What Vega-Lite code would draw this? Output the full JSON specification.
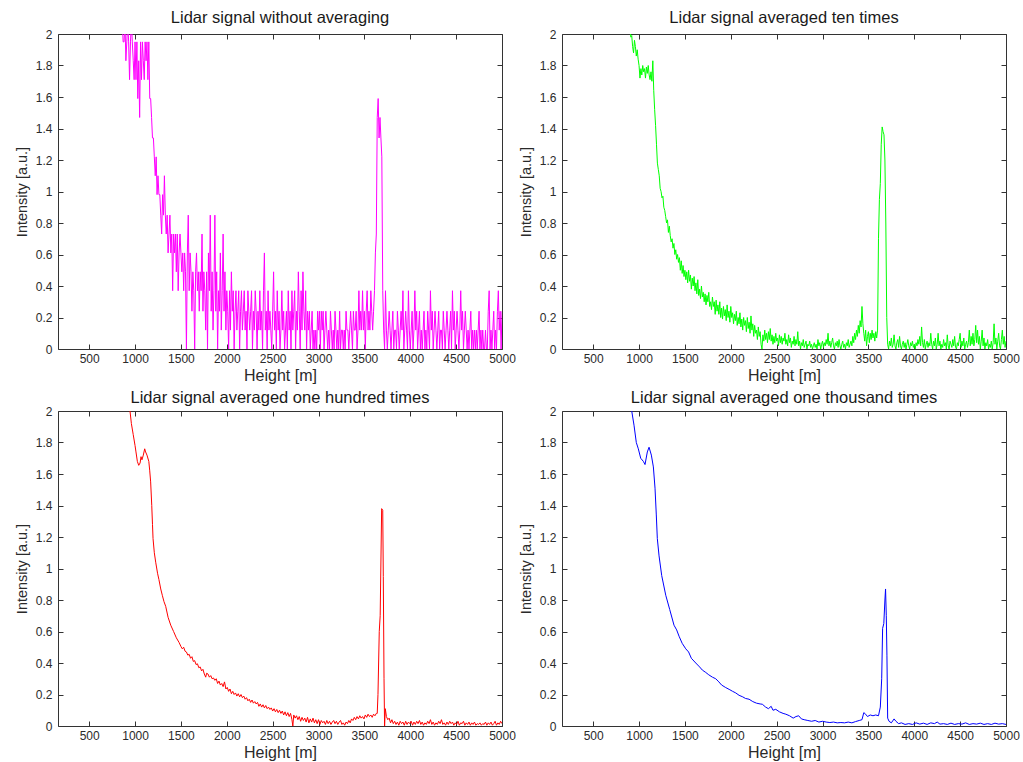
{
  "$schema": "https://vega.github.io/schema/vega-lite/v6.json",
  "background": "white",
  "padding": {"left": 13, "top": 9, "right": 5, "bottom": 5},
  "bounds": "flush",
  "columns": 2,
  "spacing": {"column": 60, "row": 62},
  "config": {
    "view": {"stroke": "#333333", "strokeWidth": 1},
    "font": "Liberation Sans",
    "title": {"font": "Liberation Sans", "fontSize": 16.5, "fontWeight": "normal", "color": "#1a1a1a", "anchor": "middle", "frame": "group"},
    "axis": {"domain": false, "grid": false, "ticks": true, "tickColor": "#333333", "tickWidth": 1, "tickSize": 5, "offset": -5, "labelFlush": false, "labelFont": "Liberation Sans", "labelFontSize": 12, "labelColor": "#2a2a2a", "titleFont": "Liberation Sans", "titleFontWeight": "normal", "titleColor": "#2a2a2a"},
    "axisX": {"labelPadding": 4, "titleFontSize": 16, "titlePadding": 3, "format": "d"},
    "axisY": {"labelPadding": 6, "titleFontSize": 14.5, "titlePadding": 6, "format": "~g"}
  },
  "datasets": {
    "raw": [
      {"h":860,"v":2.08},{"h":870,"v":1.95},{"h":880,"v":1.95},{"h":890,"v":2.08},{"h":900,"v":1.83},{"h":910,"v":1.95},{"h":920,"v":2.08},{"h":930,"v":1.95},{"h":940,"v":1.71},{"h":950,"v":1.95},{"h":960,"v":2.08},{"h":970,"v":1.95},{"h":980,"v":1.83},{"h":990,"v":1.71},{"h":1000,"v":1.95},{"h":1010,"v":1.71},{"h":1020,"v":1.95},{"h":1030,"v":1.59},{"h":1040,"v":1.83},{"h":1050,"v":1.47},{"h":1060,"v":1.95},{"h":1070,"v":1.71},{"h":1080,"v":1.95},{"h":1090,"v":1.83},{"h":1100,"v":1.71},{"h":1110,"v":1.95},{"h":1120,"v":1.83},{"h":1130,"v":1.95},{"h":1140,"v":1.71},{"h":1150,"v":1.95},
      {"h":1160,"v":1.59},{"h":1170,"v":1.59},{"h":1180,"v":1.47},{"h":1190,"v":1.34},{"h":1200,"v":1.34},{"h":1210,"v":1.22},{"h":1220,"v":1.1},{"h":1230,"v":1.22},{"h":1240,"v":0.98},{"h":1250,"v":1.1},{"h":1260,"v":0.98},{"h":1270,"v":0.98},{"h":1280,"v":0.85},{"h":1290,"v":0.73},{"h":1300,"v":0.98},{"h":1310,"v":0.85},{"h":1320,"v":1.1},{"h":1330,"v":0.85},{"h":1340,"v":0.73},{"h":1350,"v":0.85},{"h":1360,"v":0.61},{"h":1370,"v":0.73},{"h":1380,"v":0.85},{"h":1390,"v":0.61},{"h":1400,"v":0.73},{"h":1410,"v":0.37},{"h":1420,"v":0.73},{"h":1430,"v":0.61},{"h":1440,"v":0.73},{"h":1450,"v":0.49},{"h":1460,"v":0.73},{"h":1470,"v":0.37},{"h":1480,"v":0.61},{"h":1490,"v":0.73},{"h":1500,"v":0.61},{"h":1510,"v":0.49},{"h":1520,"v":0.61},{"h":1530,"v":0.37},{"h":1540,"v":0.61},{"h":1550,"v":0.49},{"h":1560,"v":0.0},{"h":1570,"v":0.61},{"h":1580,"v":0.85},{"h":1590,"v":0.37},{"h":1600,"v":0.61},{"h":1610,"v":0.49},{"h":1620,"v":0.24},{"h":1630,"v":0.49},{"h":1640,"v":0.37},{"h":1650,"v":0.0},{"h":1660,"v":0.49},{"h":1670,"v":0.61},{"h":1680,"v":0.37},{"h":1690,"v":0.49},{"h":1700,"v":0.24},{"h":1710,"v":0.49},{"h":1720,"v":0.37},{"h":1730,"v":0.73},{"h":1740,"v":0.24},{"h":1750,"v":0.49},{"h":1760,"v":0.37},{"h":1770,"v":0.12},{"h":1780,"v":0.49},{"h":1790,"v":0.0},{"h":1800,"v":0.61},{"h":1810,"v":0.37},{"h":1820,"v":0.85},{"h":1830,"v":0.24},{"h":1840,"v":0.49},{"h":1850,"v":0.12},{"h":1860,"v":0.37},{"h":1870,"v":0.85},{"h":1880,"v":0.24},{"h":1890,"v":0.49},{"h":1900,"v":0.0},{"h":1910,"v":0.37},{"h":1920,"v":0.24},{"h":1930,"v":0.61},{"h":1940,"v":0.12},{"h":1950,"v":0.37},{"h":1960,"v":0.73},{"h":1970,"v":0.24},{"h":1980,"v":0.49},{"h":1990,"v":0.12},{"h":2000,"v":0.37},{"h":2010,"v":0.24},{"h":2020,"v":0.0},{"h":2030,"v":0.37},{"h":2040,"v":0.12},{"h":2050,"v":0.49},{"h":2060,"v":0.24},{"h":2070,"v":0.37},{"h":2080,"v":0.0},{"h":2090,"v":0.24},{"h":2100,"v":0.37},{"h":2110,"v":0.12},{"h":2120,"v":0.24},{"h":2130,"v":0.37},{"h":2140,"v":0.0},{"h":2150,"v":0.24},{"h":2160,"v":0.37},{"h":2170,"v":0.12},{"h":2180,"v":0.24},{"h":2190,"v":0.37},{"h":2200,"v":0.12},{"h":2210,"v":0.24},{"h":2220,"v":0.0},{"h":2230,"v":0.37},{"h":2240,"v":0.24},{"h":2250,"v":0.12},{"h":2260,"v":0.24},{"h":2270,"v":0.37},{"h":2280,"v":0.0},{"h":2290,"v":0.24},{"h":2300,"v":0.12},{"h":2310,"v":0.37},{"h":2320,"v":0.24},{"h":2330,"v":0.0},{"h":2340,"v":0.24},{"h":2350,"v":0.12},{"h":2360,"v":0.37},{"h":2370,"v":0.12},{"h":2380,"v":0.24},{"h":2390,"v":0.0},{"h":2400,"v":0.37},{"h":2410,"v":0.61},{"h":2420,"v":0.12},{"h":2430,"v":0.24},{"h":2440,"v":0.0},{"h":2450,"v":0.37},{"h":2460,"v":0.12},{"h":2470,"v":0.24},{"h":2480,"v":0.12},{"h":2490,"v":0.0},{"h":2500,"v":0.24},{"h":2510,"v":0.49},{"h":2520,"v":0.12},{"h":2530,"v":0.24},{"h":2540,"v":0.0},{"h":2550,"v":0.37},{"h":2560,"v":0.12},{"h":2570,"v":0.24},{"h":2580,"v":0.0},{"h":2590,"v":0.12},{"h":2600,"v":0.37},{"h":2610,"v":0.12},{"h":2620,"v":0.24},{"h":2630,"v":0.0},{"h":2640,"v":0.12},{"h":2650,"v":0.24},{"h":2660,"v":0.0},{"h":2670,"v":0.37},{"h":2680,"v":0.12},{"h":2690,"v":0.24},{"h":2700,"v":0.0},{"h":2710,"v":0.37},{"h":2720,"v":0.12},{"h":2730,"v":0.24},{"h":2740,"v":0.37},{"h":2750,"v":0.0},{"h":2760,"v":0.24},{"h":2770,"v":0.12},{"h":2780,"v":0.49},{"h":2790,"v":0.24},{"h":2800,"v":0.0},{"h":2810,"v":0.37},{"h":2820,"v":0.12},{"h":2830,"v":0.49},{"h":2840,"v":0.24},{"h":2850,"v":0.12},{"h":2860,"v":0.37},{"h":2870,"v":0.0},{"h":2880,"v":0.24},{"h":2890,"v":0.12},{"h":2900,"v":0.24},{"h":2910,"v":0.0},{"h":2920,"v":0.12},{"h":2930,"v":0.24},{"h":2940,"v":0.0},{"h":2950,"v":0.12},{"h":2960,"v":0.0},{"h":2970,"v":0.12},{"h":2980,"v":0.0},{"h":2990,"v":0.24},{"h":3000,"v":0.12},{"h":3010,"v":0.24},{"h":3020,"v":0.0},{"h":3030,"v":0.24},{"h":3040,"v":0.12},{"h":3050,"v":0.24},{"h":3060,"v":0.0},{"h":3070,"v":0.12},{"h":3080,"v":0.24},{"h":3090,"v":0.12},{"h":3100,"v":0.0},{"h":3110,"v":0.12},{"h":3120,"v":0.0},{"h":3130,"v":0.24},{"h":3140,"v":0.12},{"h":3150,"v":0.0},{"h":3160,"v":0.12},{"h":3170,"v":0.0},{"h":3180,"v":0.24},{"h":3190,"v":0.12},{"h":3200,"v":0.0},{"h":3210,"v":0.12},{"h":3220,"v":0.0},{"h":3230,"v":0.24},{"h":3240,"v":0.0},{"h":3250,"v":0.12},{"h":3260,"v":0.12},{"h":3270,"v":0.0},{"h":3280,"v":0.12},{"h":3290,"v":0.0},{"h":3300,"v":0.24},{"h":3310,"v":0.12},{"h":3320,"v":0.12},{"h":3330,"v":0.0},{"h":3340,"v":0.12},{"h":3350,"v":0.24},{"h":3360,"v":0.12},{"h":3370,"v":0.0},{"h":3380,"v":0.24},{"h":3390,"v":0.12},{"h":3400,"v":0.12},{"h":3410,"v":0.24},{"h":3420,"v":0.0},{"h":3430,"v":0.12},{"h":3440,"v":0.37},{"h":3450,"v":0.12},{"h":3460,"v":0.24},{"h":3470,"v":0.12},{"h":3480,"v":0.37},{"h":3490,"v":0.12},{"h":3500,"v":0.24},{"h":3510,"v":0.0},{"h":3520,"v":0.24},{"h":3530,"v":0.37},{"h":3540,"v":0.12},{"h":3550,"v":0.24},{"h":3560,"v":0.12},{"h":3570,"v":0.37},{"h":3580,"v":0.24},{"h":3590,"v":0.12},{"h":3600,"v":0.24},{"h":3610,"v":0.37},{"h":3620,"v":0.61},{"h":3630,"v":0.73},{"h":3640,"v":1.47},{"h":3650,"v":1.59},{"h":3660,"v":1.34},{"h":3670,"v":1.47},{"h":3680,"v":1.34},{"h":3690,"v":1.22},{"h":3700,"v":0.37},{"h":3710,"v":0.12},{"h":3720,"v":0.0},{"h":3730,"v":0.37},{"h":3740,"v":0.12},{"h":3750,"v":0.0},{"h":3760,"v":0.12},{"h":3770,"v":0.24},{"h":3780,"v":0.12},{"h":3790,"v":0.0},{"h":3800,"v":0.12},{"h":3810,"v":0.24},{"h":3820,"v":0.0},{"h":3830,"v":0.12},{"h":3840,"v":0.12},{"h":3850,"v":0.0},{"h":3860,"v":0.24},{"h":3870,"v":0.12},{"h":3880,"v":0.0},{"h":3890,"v":0.12},{"h":3900,"v":0.24},{"h":3910,"v":0.12},{"h":3920,"v":0.37},{"h":3930,"v":0.0},{"h":3940,"v":0.12},{"h":3950,"v":0.24},{"h":3960,"v":0.12},{"h":3970,"v":0.0},{"h":3980,"v":0.37},{"h":3990,"v":0.12},{"h":4000,"v":0.0},{"h":4010,"v":0.12},{"h":4020,"v":0.24},{"h":4030,"v":0.0},{"h":4040,"v":0.12},{"h":4050,"v":0.37},{"h":4060,"v":0.12},{"h":4070,"v":0.24},{"h":4080,"v":0.0},{"h":4090,"v":0.12},{"h":4100,"v":0.24},{"h":4110,"v":0.0},{"h":4120,"v":0.12},{"h":4130,"v":0.0},{"h":4140,"v":0.12},{"h":4150,"v":0.24},{"h":4160,"v":0.0},{"h":4170,"v":0.12},{"h":4180,"v":0.0},{"h":4190,"v":0.24},{"h":4200,"v":0.12},{"h":4210,"v":0.0},{"h":4220,"v":0.37},{"h":4230,"v":0.12},{"h":4240,"v":0.24},{"h":4250,"v":0.0},{"h":4260,"v":0.12},{"h":4270,"v":0.24},{"h":4280,"v":0.12},{"h":4290,"v":0.0},{"h":4300,"v":0.12},{"h":4310,"v":0.24},{"h":4320,"v":0.0},{"h":4330,"v":0.12},{"h":4340,"v":0.12},{"h":4350,"v":0.0},{"h":4360,"v":0.24},{"h":4370,"v":0.12},{"h":4380,"v":0.0},{"h":4390,"v":0.12},{"h":4400,"v":0.24},{"h":4410,"v":0.12},{"h":4420,"v":0.0},{"h":4430,"v":0.12},{"h":4440,"v":0.24},{"h":4450,"v":0.0},{"h":4460,"v":0.37},{"h":4470,"v":0.12},{"h":4480,"v":0.24},{"h":4490,"v":0.0},{"h":4500,"v":0.12},{"h":4510,"v":0.24},{"h":4520,"v":0.12},{"h":4530,"v":0.0},{"h":4540,"v":0.12},{"h":4550,"v":0.37},{"h":4560,"v":0.12},{"h":4570,"v":0.24},{"h":4580,"v":0.0},{"h":4590,"v":0.12},{"h":4600,"v":0.24},{"h":4610,"v":0.12},{"h":4620,"v":0.0},{"h":4630,"v":0.12},{"h":4640,"v":0.0},{"h":4650,"v":0.12},{"h":4660,"v":0.24},{"h":4670,"v":0.0},{"h":4680,"v":0.12},{"h":4690,"v":0.0},{"h":4700,"v":0.12},{"h":4710,"v":0.0},{"h":4720,"v":0.12},{"h":4730,"v":0.0},{"h":4740,"v":0.12},{"h":4750,"v":0.24},{"h":4760,"v":0.0},{"h":4770,"v":0.12},{"h":4780,"v":0.0},{"h":4790,"v":0.12},{"h":4800,"v":0.0},{"h":4810,"v":0.0},{"h":4820,"v":0.12},{"h":4830,"v":0.0},{"h":4840,"v":0.0},{"h":4850,"v":0.24},{"h":4860,"v":0.37},{"h":4870,"v":0.0},{"h":4880,"v":0.12},{"h":4890,"v":0.0},{"h":4900,"v":0.12},{"h":4910,"v":0.24},{"h":4920,"v":0.0},{"h":4930,"v":0.12},{"h":4940,"v":0.0},{"h":4950,"v":0.24},{"h":4960,"v":0.37},{"h":4970,"v":0.12},{"h":4980,"v":0.24},{"h":4990,"v":0.0},{"h":5000,"v":0.24}
    ],
    "ten": [
      {"h":900,"v":2.05},{"h":910,"v":1.98},{"h":920,"v":1.99},{"h":930,"v":1.92},{"h":940,"v":1.88},{"h":950,"v":1.96},{"h":960,"v":1.92},{"h":970,"v":1.86},{"h":980,"v":1.9},{"h":990,"v":1.84},{"h":1000,"v":1.8},{"h":1010,"v":1.72},{"h":1020,"v":1.78},{"h":1030,"v":1.74},{"h":1040,"v":1.8},{"h":1050,"v":1.76},{"h":1060,"v":1.78},{"h":1070,"v":1.72},{"h":1080,"v":1.79},{"h":1090,"v":1.75},{"h":1100,"v":1.8},{"h":1110,"v":1.74},{"h":1120,"v":1.71},{"h":1130,"v":1.76},{"h":1140,"v":1.7},{"h":1150,"v":1.83},{"h":1160,"v":1.64},{"h":1170,"v":1.52},{"h":1180,"v":1.42},{"h":1190,"v":1.3},{"h":1200,"v":1.18},{"h":1210,"v":1.14},{"h":1220,"v":1.1},{"h":1230,"v":1.02},{"h":1240,"v":1.0},{"h":1250,"v":0.96},{"h":1260,"v":0.97},{"h":1270,"v":0.9},{"h":1280,"v":0.88},{"h":1290,"v":0.84},{"h":1300,"v":0.8},{"h":1310,"v":0.82},{"h":1320,"v":0.74},{"h":1330,"v":0.78},{"h":1340,"v":0.72},{"h":1350,"v":0.68},{"h":1360,"v":0.7},{"h":1370,"v":0.64},{"h":1380,"v":0.67},{"h":1390,"v":0.6},{"h":1400,"v":0.63},{"h":1410,"v":0.57},{"h":1420,"v":0.6},{"h":1430,"v":0.55},{"h":1440,"v":0.58},{"h":1450,"v":0.5},{"h":1460,"v":0.56},{"h":1470,"v":0.48},{"h":1480,"v":0.53},{"h":1490,"v":0.46},{"h":1500,"v":0.5},{"h":1510,"v":0.44},{"h":1520,"v":0.49},{"h":1530,"v":0.42},{"h":1540,"v":0.5},{"h":1550,"v":0.43},{"h":1560,"v":0.47},{"h":1570,"v":0.38},{"h":1580,"v":0.45},{"h":1590,"v":0.4},{"h":1600,"v":0.46},{"h":1610,"v":0.37},{"h":1620,"v":0.42},{"h":1630,"v":0.35},{"h":1640,"v":0.44},{"h":1650,"v":0.34},{"h":1660,"v":0.38},{"h":1670,"v":0.32},{"h":1680,"v":0.4},{"h":1690,"v":0.33},{"h":1700,"v":0.36},{"h":1710,"v":0.3},{"h":1720,"v":0.35},{"h":1730,"v":0.28},{"h":1740,"v":0.34},{"h":1750,"v":0.3},{"h":1760,"v":0.36},{"h":1770,"v":0.27},{"h":1780,"v":0.3},{"h":1790,"v":0.25},{"h":1800,"v":0.33},{"h":1810,"v":0.27},{"h":1820,"v":0.3},{"h":1830,"v":0.22},{"h":1840,"v":0.31},{"h":1850,"v":0.24},{"h":1860,"v":0.28},{"h":1870,"v":0.22},{"h":1880,"v":0.3},{"h":1890,"v":0.2},{"h":1900,"v":0.26},{"h":1910,"v":0.19},{"h":1920,"v":0.27},{"h":1930,"v":0.21},{"h":1940,"v":0.25},{"h":1950,"v":0.18},{"h":1960,"v":0.28},{"h":1970,"v":0.2},{"h":1980,"v":0.24},{"h":1990,"v":0.17},{"h":2000,"v":0.27},{"h":2010,"v":0.2},{"h":2020,"v":0.23},{"h":2030,"v":0.16},{"h":2040,"v":0.22},{"h":2050,"v":0.18},{"h":2060,"v":0.24},{"h":2070,"v":0.15},{"h":2080,"v":0.2},{"h":2090,"v":0.16},{"h":2100,"v":0.23},{"h":2110,"v":0.14},{"h":2120,"v":0.19},{"h":2130,"v":0.12},{"h":2140,"v":0.2},{"h":2150,"v":0.15},{"h":2160,"v":0.18},{"h":2170,"v":0.11},{"h":2180,"v":0.2},{"h":2190,"v":0.13},{"h":2200,"v":0.17},{"h":2210,"v":0.1},{"h":2220,"v":0.21},{"h":2230,"v":0.12},{"h":2240,"v":0.16},{"h":2250,"v":0.08},{"h":2260,"v":0.15},{"h":2270,"v":0.1},{"h":2280,"v":0.12},{"h":2290,"v":0.06},{"h":2300,"v":0.14},{"h":2310,"v":0.08},{"h":2320,"v":0.11},{"h":2330,"v":0.03},{"h":2340,"v":0.0},{"h":2350,"v":0.09},{"h":2360,"v":0.05},{"h":2370,"v":0.12},{"h":2380,"v":0.06},{"h":2390,"v":0.1},{"h":2400,"v":0.04},{"h":2410,"v":0.11},{"h":2420,"v":0.06},{"h":2430,"v":0.13},{"h":2440,"v":0.05},{"h":2450,"v":0.09},{"h":2460,"v":0.03},{"h":2470,"v":0.08},{"h":2480,"v":0.04},{"h":2490,"v":0.1},{"h":2500,"v":0.05},{"h":2510,"v":0.07},{"h":2520,"v":0.02},{"h":2530,"v":0.09},{"h":2540,"v":0.04},{"h":2550,"v":0.08},{"h":2560,"v":0.03},{"h":2570,"v":0.07},{"h":2580,"v":0.05},{"h":2590,"v":0.1},{"h":2600,"v":0.03},{"h":2610,"v":0.06},{"h":2620,"v":0.02},{"h":2630,"v":0.09},{"h":2640,"v":0.04},{"h":2650,"v":0.07},{"h":2660,"v":0.01},{"h":2670,"v":0.05},{"h":2680,"v":0.03},{"h":2690,"v":0.08},{"h":2700,"v":0.02},{"h":2710,"v":0.06},{"h":2720,"v":0.03},{"h":2730,"v":0.11},{"h":2740,"v":0.02},{"h":2750,"v":0.05},{"h":2760,"v":0.0},{"h":2770,"v":0.04},{"h":2780,"v":0.02},{"h":2790,"v":0.06},{"h":2800,"v":0.01},{"h":2810,"v":0.03},{"h":2820,"v":0.05},{"h":2830,"v":0.0},{"h":2840,"v":0.03},{"h":2850,"v":0.02},{"h":2860,"v":0.05},{"h":2870,"v":0.01},{"h":2880,"v":0.03},{"h":2890,"v":0.0},{"h":2900,"v":0.02},{"h":2910,"v":0.04},{"h":2920,"v":0.01},{"h":2930,"v":0.03},{"h":2940,"v":0.0},{"h":2950,"v":0.06},{"h":2960,"v":0.02},{"h":2970,"v":0.04},{"h":2980,"v":0.0},{"h":2990,"v":0.03},{"h":3000,"v":0.05},{"h":3010,"v":0.01},{"h":3020,"v":0.04},{"h":3030,"v":0.02},{"h":3040,"v":0.06},{"h":3050,"v":0.03},{"h":3060,"v":0.1},{"h":3070,"v":0.02},{"h":3080,"v":0.05},{"h":3090,"v":0.01},{"h":3100,"v":0.04},{"h":3110,"v":0.07},{"h":3120,"v":0.02},{"h":3130,"v":0.0},{"h":3140,"v":0.04},{"h":3150,"v":0.02},{"h":3160,"v":0.05},{"h":3170,"v":0.01},{"h":3180,"v":0.06},{"h":3190,"v":0.02},{"h":3200,"v":0.0},{"h":3210,"v":0.03},{"h":3220,"v":0.05},{"h":3230,"v":0.01},{"h":3240,"v":0.03},{"h":3250,"v":0.0},{"h":3260,"v":0.04},{"h":3270,"v":0.02},{"h":3280,"v":0.06},{"h":3290,"v":0.01},{"h":3300,"v":0.03},{"h":3310,"v":0.05},{"h":3320,"v":0.02},{"h":3330,"v":0.08},{"h":3340,"v":0.04},{"h":3350,"v":0.1},{"h":3360,"v":0.06},{"h":3370,"v":0.12},{"h":3380,"v":0.08},{"h":3390,"v":0.15},{"h":3400,"v":0.1},{"h":3410,"v":0.18},{"h":3420,"v":0.14},{"h":3430,"v":0.27},{"h":3440,"v":0.16},{"h":3450,"v":0.1},{"h":3460,"v":0.05},{"h":3470,"v":0.12},{"h":3480,"v":0.02},{"h":3490,"v":0.08},{"h":3500,"v":0.11},{"h":3510,"v":0.04},{"h":3520,"v":0.1},{"h":3530,"v":0.06},{"h":3540,"v":0.12},{"h":3550,"v":0.07},{"h":3560,"v":0.1},{"h":3570,"v":0.05},{"h":3580,"v":0.11},{"h":3590,"v":0.07},{"h":3600,"v":0.12},{"h":3610,"v":0.7},{"h":3620,"v":0.95},{"h":3630,"v":1.05},{"h":3640,"v":1.3},{"h":3650,"v":1.41},{"h":3660,"v":1.38},{"h":3670,"v":1.36},{"h":3680,"v":1.2},{"h":3690,"v":0.8},{"h":3700,"v":0.2},{"h":3710,"v":0.03},{"h":3720,"v":0.0},{"h":3730,"v":0.05},{"h":3740,"v":0.02},{"h":3750,"v":0.07},{"h":3760,"v":0.01},{"h":3770,"v":0.03},{"h":3780,"v":0.09},{"h":3790,"v":0.02},{"h":3800,"v":0.0},{"h":3810,"v":0.04},{"h":3820,"v":0.06},{"h":3830,"v":0.01},{"h":3840,"v":0.08},{"h":3850,"v":0.02},{"h":3860,"v":0.0},{"h":3870,"v":0.03},{"h":3880,"v":0.05},{"h":3890,"v":0.01},{"h":3900,"v":0.04},{"h":3910,"v":0.0},{"h":3920,"v":0.03},{"h":3930,"v":0.06},{"h":3940,"v":0.02},{"h":3950,"v":0.0},{"h":3960,"v":0.04},{"h":3970,"v":0.02},{"h":3980,"v":0.05},{"h":3990,"v":0.01},{"h":4000,"v":0.03},{"h":4010,"v":0.0},{"h":4020,"v":0.04},{"h":4030,"v":0.02},{"h":4040,"v":0.06},{"h":4050,"v":0.03},{"h":4060,"v":0.08},{"h":4070,"v":0.02},{"h":4080,"v":0.14},{"h":4090,"v":0.04},{"h":4100,"v":0.01},{"h":4110,"v":0.06},{"h":4120,"v":0.0},{"h":4130,"v":0.03},{"h":4140,"v":0.05},{"h":4150,"v":0.01},{"h":4160,"v":0.04},{"h":4170,"v":0.02},{"h":4180,"v":0.1},{"h":4190,"v":0.03},{"h":4200,"v":0.0},{"h":4210,"v":0.05},{"h":4220,"v":0.02},{"h":4230,"v":0.07},{"h":4240,"v":0.0},{"h":4250,"v":0.03},{"h":4260,"v":0.1},{"h":4270,"v":0.02},{"h":4280,"v":0.05},{"h":4290,"v":0.0},{"h":4300,"v":0.03},{"h":4310,"v":0.01},{"h":4320,"v":0.06},{"h":4330,"v":0.02},{"h":4340,"v":0.04},{"h":4350,"v":0.0},{"h":4360,"v":0.09},{"h":4370,"v":0.02},{"h":4380,"v":0.0},{"h":4390,"v":0.05},{"h":4400,"v":0.03},{"h":4410,"v":0.01},{"h":4420,"v":0.06},{"h":4430,"v":0.02},{"h":4440,"v":0.08},{"h":4450,"v":0.01},{"h":4460,"v":0.0},{"h":4470,"v":0.04},{"h":4480,"v":0.02},{"h":4490,"v":0.06},{"h":4500,"v":0.1},{"h":4510,"v":0.01},{"h":4520,"v":0.05},{"h":4530,"v":0.02},{"h":4540,"v":0.07},{"h":4550,"v":0.0},{"h":4560,"v":0.03},{"h":4570,"v":0.05},{"h":4580,"v":0.01},{"h":4590,"v":0.04},{"h":4600,"v":0.12},{"h":4610,"v":0.02},{"h":4620,"v":0.08},{"h":4630,"v":0.03},{"h":4640,"v":0.1},{"h":4650,"v":0.02},{"h":4660,"v":0.06},{"h":4670,"v":0.15},{"h":4680,"v":0.04},{"h":4690,"v":0.12},{"h":4700,"v":0.03},{"h":4710,"v":0.08},{"h":4720,"v":0.0},{"h":4730,"v":0.05},{"h":4740,"v":0.12},{"h":4750,"v":0.02},{"h":4760,"v":0.07},{"h":4770,"v":0.0},{"h":4780,"v":0.04},{"h":4790,"v":0.02},{"h":4800,"v":0.06},{"h":4810,"v":0.0},{"h":4820,"v":0.03},{"h":4830,"v":0.01},{"h":4840,"v":0.05},{"h":4850,"v":0.0},{"h":4860,"v":0.04},{"h":4870,"v":0.16},{"h":4880,"v":0.03},{"h":4890,"v":0.07},{"h":4900,"v":0.0},{"h":4910,"v":0.05},{"h":4920,"v":0.1},{"h":4930,"v":0.02},{"h":4940,"v":0.0},{"h":4950,"v":0.06},{"h":4960,"v":0.12},{"h":4970,"v":0.03},{"h":4980,"v":0.08},{"h":4990,"v":0.01},{"h":5000,"v":0.05}
    ],
    "hundred": [
      {"h":930,"v":2.05},{"h":945,"v":2.0},{"h":960,"v":1.92},{"h":980,"v":1.85},{"h":1000,"v":1.78},{"h":1010,"v":1.74},{"h":1025,"v":1.68},{"h":1040,"v":1.655},{"h":1055,"v":1.67},{"h":1065,"v":1.71},{"h":1075,"v":1.69},{"h":1090,"v":1.72},{"h":1105,"v":1.76},{"h":1115,"v":1.74},{"h":1130,"v":1.72},{"h":1150,"v":1.68},{"h":1160,"v":1.62},{"h":1170,"v":1.55},{"h":1182,"v":1.4},{"h":1190,"v":1.28},{"h":1196,"v":1.19},{"h":1210,"v":1.1},{"h":1225,"v":1.04},{"h":1245,"v":0.97},{"h":1260,"v":0.93},{"h":1280,"v":0.87},{"h":1297,"v":0.83},{"h":1315,"v":0.79},{"h":1334,"v":0.76},{"h":1360,"v":0.69},{"h":1389,"v":0.64},{"h":1420,"v":0.6},{"h":1450,"v":0.56},{"h":1480,"v":0.53},
      {"h":1500,"v":0.505},{"h":1515,"v":0.49},{"h":1530,"v":0.5},{"h":1545,"v":0.475},{"h":1560,"v":0.47},{"h":1575,"v":0.45},{"h":1590,"v":0.455},{"h":1605,"v":0.43},{"h":1620,"v":0.44},{"h":1635,"v":0.41},{"h":1650,"v":0.415},{"h":1665,"v":0.39},{"h":1680,"v":0.395},{"h":1695,"v":0.37},{"h":1710,"v":0.375},{"h":1725,"v":0.35},{"h":1740,"v":0.36},{"h":1755,"v":0.33},{"h":1770,"v":0.31},{"h":1780,"v":0.335},{"h":1795,"v":0.33},{"h":1810,"v":0.31},{"h":1825,"v":0.32},{"h":1840,"v":0.3},{"h":1855,"v":0.305},{"h":1870,"v":0.29},{"h":1885,"v":0.3},{"h":1900,"v":0.27},{"h":1915,"v":0.285},{"h":1930,"v":0.26},{"h":1945,"v":0.27},{"h":1960,"v":0.25},{"h":1975,"v":0.28},{"h":1990,"v":0.235},{"h":2005,"v":0.245},{"h":2020,"v":0.22},{"h":2035,"v":0.235},{"h":2050,"v":0.205},{"h":2065,"v":0.22},{"h":2080,"v":0.2},{"h":2095,"v":0.21},{"h":2110,"v":0.19},{"h":2125,"v":0.205},{"h":2140,"v":0.185},{"h":2155,"v":0.2},{"h":2170,"v":0.18},{"h":2185,"v":0.19},{"h":2200,"v":0.17},{"h":2215,"v":0.18},{"h":2230,"v":0.16},{"h":2245,"v":0.17},{"h":2260,"v":0.15},{"h":2275,"v":0.165},{"h":2290,"v":0.145},{"h":2305,"v":0.155},{"h":2320,"v":0.14},{"h":2335,"v":0.15},{"h":2350,"v":0.125},{"h":2365,"v":0.14},{"h":2380,"v":0.12},{"h":2395,"v":0.135},{"h":2410,"v":0.115},{"h":2425,"v":0.13},{"h":2440,"v":0.11},{"h":2455,"v":0.12},{"h":2470,"v":0.105},{"h":2485,"v":0.115},{"h":2500,"v":0.095},{"h":2515,"v":0.11},{"h":2530,"v":0.09},{"h":2545,"v":0.105},{"h":2560,"v":0.085},{"h":2575,"v":0.1},{"h":2590,"v":0.08},{"h":2605,"v":0.095},{"h":2620,"v":0.07},{"h":2635,"v":0.09},{"h":2650,"v":0.065},{"h":2665,"v":0.085},{"h":2680,"v":0.06},{"h":2695,"v":0.08},{"h":2710,"v":0.04},{"h":2720,"v":0.0},{"h":2730,"v":0.07},{"h":2745,"v":0.05},{"h":2760,"v":0.065},{"h":2775,"v":0.04},{"h":2790,"v":0.06},{"h":2805,"v":0.03},{"h":2820,"v":0.055},{"h":2835,"v":0.035},{"h":2850,"v":0.05},{"h":2865,"v":0.025},{"h":2880,"v":0.055},{"h":2895,"v":0.02},{"h":2910,"v":0.045},{"h":2925,"v":0.025},{"h":2940,"v":0.05},{"h":2955,"v":0.02},{"h":2970,"v":0.04},{"h":2985,"v":0.015},{"h":3000,"v":0.04},{"h":3015,"v":0.01},{"h":3030,"v":0.035},{"h":3045,"v":0.02},{"h":3060,"v":0.03},{"h":3075,"v":0.01},{"h":3090,"v":0.035},{"h":3105,"v":0.015},{"h":3120,"v":0.03},{"h":3135,"v":0.01},{"h":3150,"v":0.025},{"h":3165,"v":0.035},{"h":3180,"v":0.015},{"h":3195,"v":0.03},{"h":3210,"v":0.01},{"h":3225,"v":0.025},{"h":3240,"v":0.035},{"h":3255,"v":0.01},{"h":3270,"v":0.02},{"h":3285,"v":0.005},{"h":3300,"v":0.025},{"h":3315,"v":0.015},{"h":3330,"v":0.035},{"h":3345,"v":0.02},{"h":3360,"v":0.045},{"h":3375,"v":0.035},{"h":3390,"v":0.055},{"h":3405,"v":0.04},{"h":3420,"v":0.06},{"h":3435,"v":0.045},{"h":3450,"v":0.065},{"h":3465,"v":0.05},{"h":3480,"v":0.06},{"h":3495,"v":0.045},{"h":3510,"v":0.07},{"h":3525,"v":0.055},{"h":3540,"v":0.075},{"h":3555,"v":0.06},{"h":3570,"v":0.07},{"h":3585,"v":0.055},{"h":3600,"v":0.075},{"h":3615,"v":0.065},{"h":3630,"v":0.08},{"h":3640,"v":0.08},{"h":3648,"v":0.2},{"h":3655,"v":0.4},{"h":3662,"v":0.6},{"h":3672,"v":0.7},{"h":3688,"v":1.38},{"h":3700,"v":1.37},{"h":3706,"v":0.95},{"h":3714,"v":0.3},{"h":3720,"v":0.0},{"h":3728,"v":0.11},{"h":3740,"v":0.06},{"h":3755,"v":0.04},{"h":3770,"v":0.05},{"h":3785,"v":0.02},{"h":3800,"v":0.04},{"h":3815,"v":0.015},{"h":3830,"v":0.03},{"h":3845,"v":0.01},{"h":3860,"v":0.025},{"h":3875,"v":0.005},{"h":3890,"v":0.03},{"h":3905,"v":0.015},{"h":3920,"v":0.025},{"h":3935,"v":0.005},{"h":3950,"v":0.03},{"h":3965,"v":0.01},{"h":3980,"v":0.025},{"h":3995,"v":0.015},{"h":4010,"v":0.03},{"h":4025,"v":0.005},{"h":4040,"v":0.025},{"h":4055,"v":0.01},{"h":4070,"v":0.03},{"h":4085,"v":0.015},{"h":4100,"v":0.035},{"h":4115,"v":0.01},{"h":4130,"v":0.025},{"h":4145,"v":0.005},{"h":4160,"v":0.02},{"h":4175,"v":0.01},{"h":4190,"v":0.03},{"h":4205,"v":0.015},{"h":4220,"v":0.04},{"h":4235,"v":0.01},{"h":4250,"v":0.025},{"h":4265,"v":0.005},{"h":4280,"v":0.02},{"h":4295,"v":0.01},{"h":4310,"v":0.03},{"h":4325,"v":0.015},{"h":4340,"v":0.04},{"h":4355,"v":0.01},{"h":4370,"v":0.02},{"h":4385,"v":0.005},{"h":4400,"v":0.025},{"h":4415,"v":0.01},{"h":4430,"v":0.03},{"h":4445,"v":0.015},{"h":4460,"v":0.025},{"h":4475,"v":0.005},{"h":4490,"v":0.02},{"h":4505,"v":0.01},{"h":4520,"v":0.03},{"h":4535,"v":0.005},{"h":4550,"v":0.02},{"h":4565,"v":0.015},{"h":4580,"v":0.03},{"h":4595,"v":0.005},{"h":4610,"v":0.02},{"h":4625,"v":0.01},{"h":4640,"v":0.025},{"h":4655,"v":0.005},{"h":4670,"v":0.02},{"h":4685,"v":0.01},{"h":4700,"v":0.025},{"h":4715,"v":0.005},{"h":4730,"v":0.015},{"h":4745,"v":0.01},{"h":4760,"v":0.02},{"h":4775,"v":0.005},{"h":4790,"v":0.015},{"h":4805,"v":0.01},{"h":4820,"v":0.025},{"h":4835,"v":0.005},{"h":4850,"v":0.02},{"h":4865,"v":0.01},{"h":4880,"v":0.025},{"h":4895,"v":0.005},{"h":4910,"v":0.015},{"h":4925,"v":0.03},{"h":4940,"v":0.005},{"h":4955,"v":0.02},{"h":4970,"v":0.01},{"h":4985,"v":0.03},{"h":5000,"v":0.015}
    ],
    "thousand": [
      {"h":910,"v":2.04},{"h":920,"v":2.0},{"h":945,"v":1.91},{"h":970,"v":1.8},{"h":992,"v":1.76},{"h":1018,"v":1.7},{"h":1047,"v":1.68},{"h":1065,"v":1.66},{"h":1090,"v":1.74},{"h":1109,"v":1.77},{"h":1134,"v":1.72},{"h":1156,"v":1.645},{"h":1174,"v":1.51},{"h":1188,"v":1.34},{"h":1199,"v":1.19},{"h":1218,"v":1.08},{"h":1247,"v":0.955},{"h":1291,"v":0.83},{"h":1334,"v":0.74},{"h":1381,"v":0.64},{"h":1410,"v":0.61},{"h":1436,"v":0.57},{"h":1470,"v":0.525},{"h":1509,"v":0.49},{"h":1540,"v":0.47},{"h":1570,"v":0.43},{"h":1618,"v":0.4},{"h":1660,"v":0.375},{"h":1690,"v":0.355},{"h":1727,"v":0.34},{"h":1760,"v":0.325},{"h":1800,"v":0.31},{"h":1836,"v":0.3},{"h":1870,"v":0.28},{"h":1900,"v":0.26},{"h":1945,"v":0.244},{"h":1990,"v":0.23},{"h":2020,"v":0.22},{"h":2054,"v":0.21},{"h":2090,"v":0.195},{"h":2130,"v":0.185},{"h":2160,"v":0.175},{"h":2199,"v":0.17},{"h":2240,"v":0.155},{"h":2280,"v":0.145},{"h":2320,"v":0.14},{"h":2344,"v":0.138},{"h":2380,"v":0.12},{"h":2410,"v":0.11},{"h":2440,"v":0.125},{"h":2460,"v":0.1},{"h":2490,"v":0.106},{"h":2530,"v":0.09},{"h":2570,"v":0.08},{"h":2600,"v":0.075},{"h":2640,"v":0.065},{"h":2680,"v":0.05},{"h":2710,"v":0.06},{"h":2740,"v":0.065},{"h":2770,"v":0.045},{"h":2800,"v":0.04},{"h":2840,"v":0.035},{"h":2880,"v":0.03},{"h":2920,"v":0.035},{"h":2960,"v":0.025},{"h":3000,"v":0.03},{"h":3040,"v":0.025},{"h":3080,"v":0.022},{"h":3120,"v":0.025},{"h":3160,"v":0.02},{"h":3200,"v":0.022},{"h":3240,"v":0.02},{"h":3280,"v":0.025},{"h":3320,"v":0.02},{"h":3360,"v":0.028},{"h":3400,"v":0.035},{"h":3430,"v":0.04},{"h":3450,"v":0.085},{"h":3470,"v":0.075},{"h":3490,"v":0.06},{"h":3520,"v":0.07},{"h":3550,"v":0.065},{"h":3580,"v":0.07},{"h":3610,"v":0.065},{"h":3630,"v":0.12},{"h":3645,"v":0.3},{"h":3655,"v":0.62},{"h":3668,"v":0.65},{"h":3680,"v":0.8},{"h":3687,"v":0.87},{"h":3695,"v":0.7},{"h":3702,"v":0.45},{"h":3710,"v":0.05},{"h":3725,"v":0.03},{"h":3750,"v":0.02},{"h":3780,"v":0.045},{"h":3800,"v":0.03},{"h":3830,"v":0.015},{"h":3860,"v":0.02},{"h":3900,"v":0.01},{"h":3940,"v":0.015},{"h":3980,"v":0.01},{"h":4020,"v":0.02},{"h":4060,"v":0.012},{"h":4100,"v":0.018},{"h":4140,"v":0.01},{"h":4180,"v":0.02},{"h":4220,"v":0.015},{"h":4250,"v":0.025},{"h":4280,"v":0.012},{"h":4320,"v":0.015},{"h":4360,"v":0.01},{"h":4400,"v":0.018},{"h":4440,"v":0.01},{"h":4480,"v":0.015},{"h":4520,"v":0.012},{"h":4560,"v":0.02},{"h":4600,"v":0.01},{"h":4640,"v":0.015},{"h":4680,"v":0.012},{"h":4720,"v":0.018},{"h":4760,"v":0.01},{"h":4800,"v":0.015},{"h":4840,"v":0.01},{"h":4880,"v":0.018},{"h":4920,"v":0.012},{"h":4960,"v":0.015},{"h":5000,"v":0.01}
    ]
  },
  "concat": [
    {
      "title": {"text": "Lidar signal without averaging", "offset": 2},
      "width": 444, "height": 315,
      "data": {"name": "raw"},
      "layer": [
        {"mark": {"type": "line", "color": "#ff00ff", "strokeWidth": 1, "clip": true},
         "encoding": {
           "x": {"field": "h", "type": "quantitative", "scale": {"domain": [160, 5000], "nice": false, "zero": false}, "axis": {"title": "Height [m]", "values": [500,1000,1500,2000,2500,3000,3500,4000,4500,5000]}},
           "y": {"field": "v", "type": "quantitative", "scale": {"domain": [0, 2], "nice": false}, "axis": {"title": "Intensity [a.u.]", "values": [0,0.2,0.4,0.6,0.8,1,1.2,1.4,1.6,1.8,2]}}}},
        {"mark": {"type": "line", "opacity": 0, "clip": true},
         "encoding": {
           "x": {"field": "h", "type": "quantitative", "axis": {"orient": "top", "labels": false, "title": null, "values": [500,1000,1500,2000,2500,3000,3500,4000,4500,5000]}},
           "y": {"field": "v", "type": "quantitative", "axis": {"orient": "right", "labels": false, "title": null, "values": [0,0.2,0.4,0.6,0.8,1,1.2,1.4,1.6,1.8,2]}}}}
      ],
      "resolve": {"axis": {"x": "independent", "y": "independent"}}
    },
    {
      "title": {"text": "Lidar signal averaged ten times", "offset": 2},
      "width": 444, "height": 315,
      "data": {"name": "ten"},
      "layer": [
        {"mark": {"type": "line", "color": "#00ff00", "strokeWidth": 1, "clip": true},
         "encoding": {
           "x": {"field": "h", "type": "quantitative", "scale": {"domain": [160, 5000], "nice": false, "zero": false}, "axis": {"title": "Height [m]", "values": [500,1000,1500,2000,2500,3000,3500,4000,4500,5000]}},
           "y": {"field": "v", "type": "quantitative", "scale": {"domain": [0, 2], "nice": false}, "axis": {"title": "Intensity [a.u.]", "values": [0,0.2,0.4,0.6,0.8,1,1.2,1.4,1.6,1.8,2]}}}},
        {"mark": {"type": "line", "opacity": 0, "clip": true},
         "encoding": {
           "x": {"field": "h", "type": "quantitative", "axis": {"orient": "top", "labels": false, "title": null, "values": [500,1000,1500,2000,2500,3000,3500,4000,4500,5000]}},
           "y": {"field": "v", "type": "quantitative", "axis": {"orient": "right", "labels": false, "title": null, "values": [0,0.2,0.4,0.6,0.8,1,1.2,1.4,1.6,1.8,2]}}}}
      ],
      "resolve": {"axis": {"x": "independent", "y": "independent"}}
    },
    {
      "title": {"text": "Lidar signal averaged one hundred times", "offset": -1},
      "width": 444, "height": 315,
      "data": {"name": "hundred"},
      "layer": [
        {"mark": {"type": "line", "color": "#ff0000", "strokeWidth": 1, "clip": true},
         "encoding": {
           "x": {"field": "h", "type": "quantitative", "scale": {"domain": [160, 5000], "nice": false, "zero": false}, "axis": {"title": "Height [m]", "values": [500,1000,1500,2000,2500,3000,3500,4000,4500,5000]}},
           "y": {"field": "v", "type": "quantitative", "scale": {"domain": [0, 2], "nice": false}, "axis": {"title": "Intensity [a.u.]", "values": [0,0.2,0.4,0.6,0.8,1,1.2,1.4,1.6,1.8,2]}}}},
        {"mark": {"type": "line", "opacity": 0, "clip": true},
         "encoding": {
           "x": {"field": "h", "type": "quantitative", "axis": {"orient": "top", "labels": false, "title": null, "values": [500,1000,1500,2000,2500,3000,3500,4000,4500,5000]}},
           "y": {"field": "v", "type": "quantitative", "axis": {"orient": "right", "labels": false, "title": null, "values": [0,0.2,0.4,0.6,0.8,1,1.2,1.4,1.6,1.8,2]}}}}
      ],
      "resolve": {"axis": {"x": "independent", "y": "independent"}}
    },
    {
      "title": {"text": "Lidar signal averaged one thousand times", "offset": -1},
      "width": 444, "height": 315,
      "data": {"name": "thousand"},
      "layer": [
        {"mark": {"type": "line", "color": "#0000ff", "strokeWidth": 1, "clip": true},
         "encoding": {
           "x": {"field": "h", "type": "quantitative", "scale": {"domain": [160, 5000], "nice": false, "zero": false}, "axis": {"title": "Height [m]", "values": [500,1000,1500,2000,2500,3000,3500,4000,4500,5000]}},
           "y": {"field": "v", "type": "quantitative", "scale": {"domain": [0, 2], "nice": false}, "axis": {"title": "Intensity [a.u.]", "values": [0,0.2,0.4,0.6,0.8,1,1.2,1.4,1.6,1.8,2]}}}},
        {"mark": {"type": "line", "opacity": 0, "clip": true},
         "encoding": {
           "x": {"field": "h", "type": "quantitative", "axis": {"orient": "top", "labels": false, "title": null, "values": [500,1000,1500,2000,2500,3000,3500,4000,4500,5000]}},
           "y": {"field": "v", "type": "quantitative", "axis": {"orient": "right", "labels": false, "title": null, "values": [0,0.2,0.4,0.6,0.8,1,1.2,1.4,1.6,1.8,2]}}}}
      ],
      "resolve": {"axis": {"x": "independent", "y": "independent"}}
    }
  ]
}
